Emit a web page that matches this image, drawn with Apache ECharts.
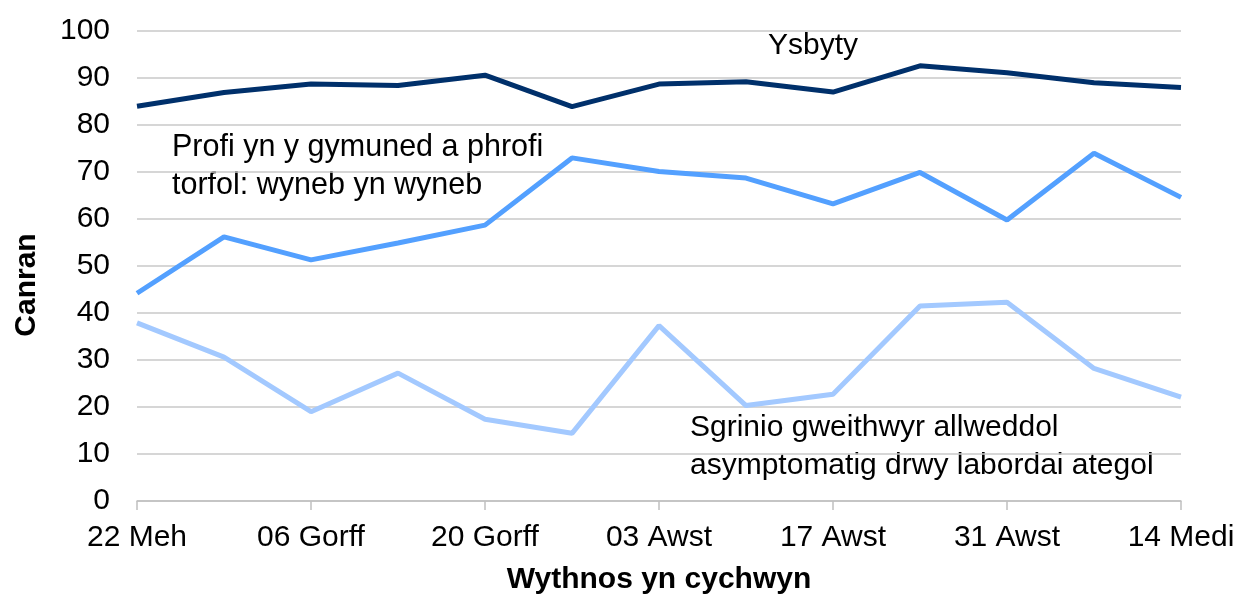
<!DOCTYPE html>
<html>
<head>
<meta charset="utf-8">
<script src="https://cdn.jsdelivr.net/npm/echarts@6/dist/echarts.min.js"></script>
<style>html,body{margin:0;padding:0;background:#fff}#c{width:1238px;height:594px}</style>
</head>
<body>
<div id="c"></div>
<script>
var categories = ['22 Meh','29 Meh','06 Gorff','13 Gorff','20 Gorff','27 Gorff','03 Awst','10 Awst','17 Awst','24 Awst','31 Awst','07 Medi','14 Medi'];
var ysbyty = [84.0, 86.9, 88.7, 88.4, 90.6, 83.9, 88.7, 89.2, 87.0, 92.6, 91.1, 89.0, 88.0];
var profi = [44.2, 56.2, 51.3, 54.9, 58.7, 73.0, 70.1, 68.7, 63.2, 69.9, 59.8, 74.0, 64.6];
var sgrinio = [37.9, 30.6, 19.0, 27.2, 17.4, 14.4, 37.3, 20.3, 22.7, 41.5, 42.3, 28.2, 22.1];
var yTicks = [0,10,20,30,40,50,60,70,80,90,100];

var font = '"Liberation Sans", Arial, sans-serif';
var chart = echarts.init(document.getElementById('c'));
function line(name, data, color){
  return {name:name, type:'line', data:data, symbol:'none', smooth:false,
    lineStyle:{color:color, width:5}, itemStyle:{color:color}};
}
chart.setOption({
  animation:false,
  grid:{left:137, right:57, top:31, bottom:93, containLabel:false, outerBoundsMode:'none'},
  xAxis:{type:'category', data:categories, boundaryGap:false,
    name:'Wythnos yn cychwyn', nameLocation:'middle', nameGap:64,
    nameTextStyle:{fontFamily:font, fontSize:30, fontWeight:'bold', color:'#000'},
    axisLine:{lineStyle:{color:'#c0c0c0', width:1.5}},
    axisTick:{show:true, interval:1, length:9, lineStyle:{color:'#c0c0c0', width:1.5}},
    axisLabel:{interval:1, fontFamily:font, fontSize:30, color:'#000', margin:22},
    splitLine:{show:false}},
  yAxis:{type:'value', min:yTicks[0], max:yTicks[yTicks.length-1], interval:10,
    axisLine:{show:false}, axisTick:{show:false},
    axisLabel:{fontFamily:font, fontSize:30, color:'#000', margin:27},
    splitLine:{lineStyle:{color:'#c8c8c8', width:1.5}}},
  series:[
    line('Ysbyty', ysbyty, '#00306b'),
    line('Profi yn y gymuned a phrofi torfol: wyneb yn wyneb', profi, '#53a0ff'),
    line('Sgrinio gweithwyr allweddol asymptomatig drwy labordai ategol', sgrinio, '#a3c9ff')
  ],
  graphic:[
    {type:'text', x:27, y:285, rotation:Math.PI/2, style:{text:'Canran', font:'bold 30px '+font, fill:'#000', align:'center', verticalAlign:'middle'}},
    {type:'text', left:768, top:31, style:{text:'Ysbyty', font:'30px '+font, fill:'#000'}},
    {type:'text', left:172, top:129, style:{text:'Profi yn y gymuned a phrofi\ntorfol: wyneb yn wyneb', font:'30.5px '+font, fill:'#000', lineHeight:38}},
    {type:'text', left:690, top:409, style:{text:'Sgrinio gweithwyr allweddol\nasymptomatig drwy labordai ategol', font:'30px '+font, fill:'#000', lineHeight:38}}
  ]
});
</script>
</body>
</html>
